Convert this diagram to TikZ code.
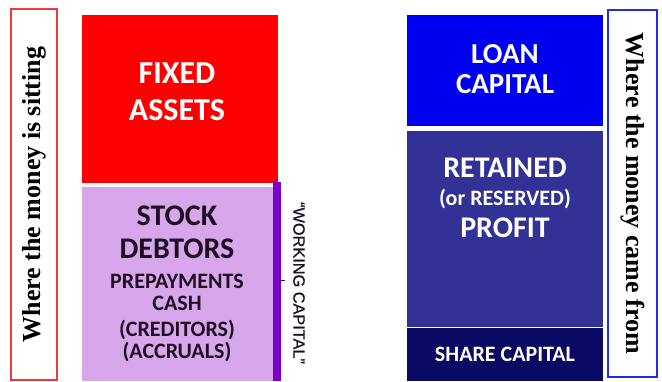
\documentclass[tikz,border=0pt]{standalone}
\usepackage{fontspec}
\setmainfont{Liberation Serif}
\newfontfamily\calfont{Carlito}
\newfontfamily\arfont[FakeBold=0.6]{Liberation Sans}
\definecolor{fixedred}{RGB}{255,0,0}
\definecolor{lilac}{RGB}{216,166,234}
\definecolor{barpurple}{RGB}{120,0,200}
\definecolor{darktxt}{RGB}{30,15,35}
\definecolor{loanblue}{RGB}{0,0,240}
\definecolor{retblue}{RGB}{50,50,150}
\definecolor{sharenavy}{RGB}{10,10,100}
\definecolor{lblred}{RGB}{230,60,60}
\definecolor{lblblue}{RGB}{40,40,230}
\begin{document}
\begin{tikzpicture}[x=1pt,y=-1pt,
  blk/.style={draw=none,inner sep=0pt,outer sep=0pt,anchor=north west},
  lbl/.style={draw,line width=1.2pt,fill=white,inner sep=0pt,outer sep=0pt,anchor=north west},
  side/.style={font=\fontsize{26}{30}\selectfont\bfseries,text=black,inner sep=0pt},
  wtxt/.style={text=white,inner sep=0pt,anchor=base},
  dtxt/.style={text=darktxt,inner sep=0pt,anchor=base},
  big/.style={font=\calfont\bfseries\fontsize{32}{36}\selectfont},
  mid/.style={font=\calfont\bfseries\fontsize{29}{34}\selectfont},
  midb/.style={font=\calfont\bfseries\fontsize{30}{34}\selectfont},
  sml/.style={font=\calfont\bfseries\fontsize{22}{26}\selectfont}]
\useasboundingbox (0,0) rectangle (662,381);
% left label
\node[lbl,draw=lblred,minimum width=46pt,minimum height=371pt] (leftlbl) at (11,9) {};
\node[side,rotate=90] (lefttxt) at (leftlbl.center) {Where the money is sitting};
% fixed assets
\node[blk,fill=fixedred,minimum width=196pt,minimum height=168pt] (fixed) at (82,15) {};
\node[wtxt,big] (fixed1) at (177,83) {FIXED};
\node[wtxt,big] (fixed2) at (177,120) {ASSETS};
% working capital
\node[blk,fill=lilac,minimum width=191pt,minimum height=194pt] (wc) at (82,187) {};
\node[blk,fill=barpurple,minimum width=8pt,minimum height=199pt] (bar) at (273,182) {};
\coordinate (tickend) at (285,280);
\draw[line width=0.6pt,darktxt] (tickend -| bar.east) -- (tickend);
\node[dtxt,midb] (stock) at (177,225) {STOCK};
\node[dtxt,midb] (debtors) at (177,258) {DEBTORS};
\node[dtxt,sml] (prepay) at (177,288) {PREPAYMENTS};
\node[dtxt,sml] (cash) at (177,310) {CASH};
\node[dtxt,sml] (creditors) at (177,336) {(CREDITORS)};
\node[dtxt,sml] (accruals) at (177,358) {(ACCRUALS)};
\node[rotate=-90,inner sep=0pt,text=darktxt,font=\arfont\fontsize{16.3}{20}\selectfont] (wctxt) at (299,283) {“WORKING CAPITAL”};
% right stack
\node[blk,fill=loanblue,minimum width=196pt,minimum height=111pt] (loan) at (407,15) {};
\node[wtxt,mid] (loan1) at (505,63) {LOAN};
\node[wtxt,mid] (loan2) at (505,93) {CAPITAL};
\node[blk,fill=retblue,minimum width=196pt,minimum height=196pt] (retained) at (407,131) {};
\node[wtxt,midb] (ret1) at (505,177) {RETAINED};
\node[wtxt,sml] (ret2) at (505,205) {(or RESERVED)};
\node[wtxt,midb] (ret3) at (505,237) {PROFIT};
\node[blk,fill=sharenavy,minimum width=196pt,minimum height=53pt] (share) at (407,328) {};
\node[wtxt,sml] (sharetxt) at (505,361) {SHARE CAPITAL};
% right label
\node[lbl,draw=lblblue,minimum width=49pt,minimum height=367pt] (rightlbl) at (608,10) {};
\node[side,rotate=-90] (righttxt) at (rightlbl.center) {Where the money came from};
\end{tikzpicture}
\end{document}
